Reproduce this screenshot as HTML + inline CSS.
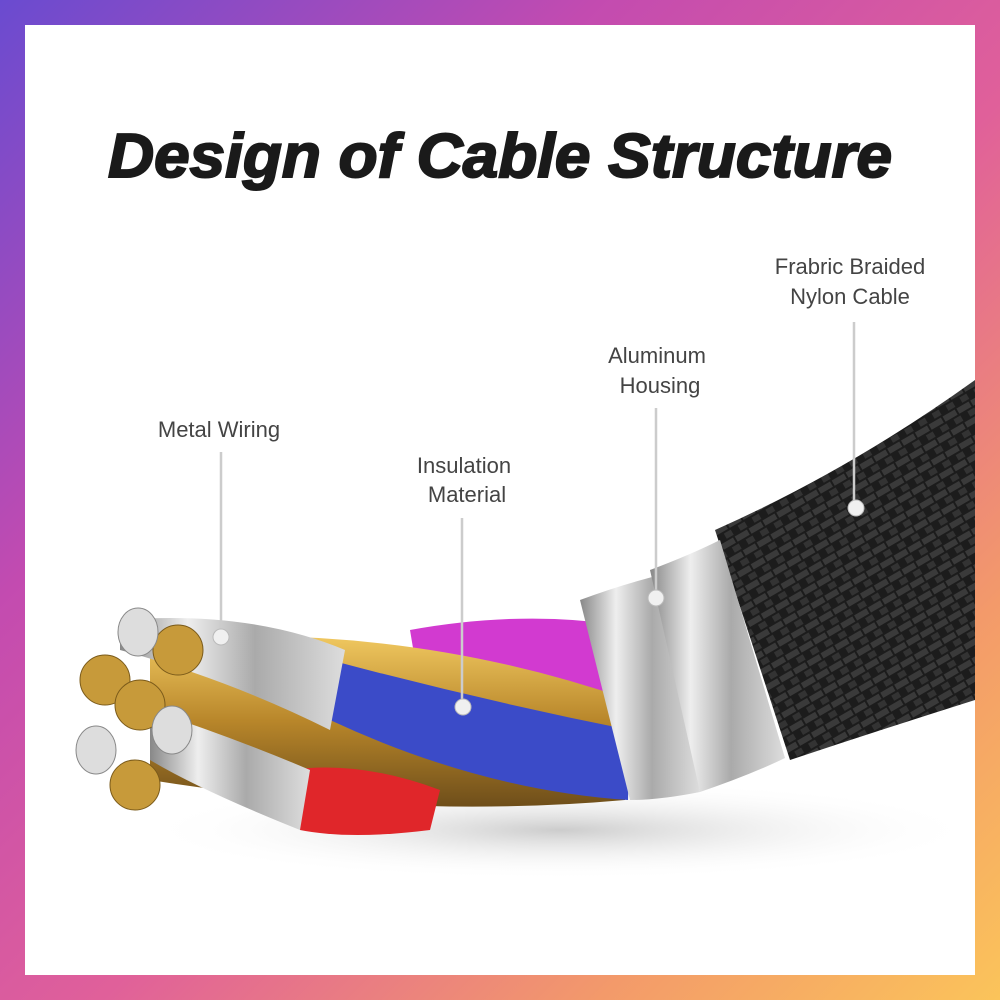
<!DOCTYPE html>
<html><head><meta charset="utf-8"><style>
html,body{margin:0;padding:0;width:1000px;height:1000px;overflow:hidden}
body{background:linear-gradient(135deg,#6a4bd0 0%,#c34bb0 30%,#e0609a 55%,#f39a6a 80%,#fbc45a 100%)}
</style></head><body>
<svg width="1000" height="1000" style="position:absolute;left:0;top:0">
<defs>
<linearGradient id="gold" x1="0" y1="0" x2="0" y2="1"><stop offset="0" stop-color="#f0c860"/><stop offset="0.5" stop-color="#b8862a"/><stop offset="1" stop-color="#6e4e1a"/></linearGradient>
<linearGradient id="silv" x1="0" y1="0" x2="1" y2="0"><stop offset="0" stop-color="#888"/><stop offset="0.3" stop-color="#eee"/><stop offset="0.6" stop-color="#aaa"/><stop offset="1" stop-color="#ddd"/></linearGradient>
<radialGradient id="sh"><stop offset="0" stop-color="#ccc"/><stop offset="1" stop-color="#fff" stop-opacity="0"/></radialGradient>
<pattern id="braid" width="16" height="16" patternUnits="userSpaceOnUse" patternTransform="rotate(-30)"><rect width="16" height="16" fill="#1c1c1c"/><rect width="14" height="6" fill="#3a3a3a"/><rect x="8" y="8" width="14" height="6" fill="#333"/></pattern>
</defs>
<rect x="25" y="25" width="950" height="950" fill="#fff"/>
<ellipse cx="560" cy="830" rx="420" ry="50" fill="url(#sh)"/>
<text x="500" y="177" text-anchor="middle" font-family="Liberation Sans,sans-serif" font-weight="bold" font-style="italic" font-size="62" fill="#1a1a1a" stroke="#1a1a1a" stroke-width="2" textLength="784" lengthAdjust="spacingAndGlyphs">Design of Cable Structure</text>
<g font-family="Liberation Sans,sans-serif" font-size="22" fill="#444" text-anchor="middle">
<text x="219" y="437">Metal Wiring</text>
<text x="464" y="473">Insulation</text><text x="467" y="502">Material</text>
<text x="657" y="363">Aluminum</text><text x="660" y="393">Housing</text>
<text x="850" y="274">Frabric Braided</text><text x="850" y="304">Nylon Cable</text>
</g>
<path d="M715,530 Q850,470 975,380 L975,700 Q880,730 790,760 Z" fill="url(#braid)"/>
<path d="M410,630 Q520,610 620,625 L615,700 Q510,680 420,690 Z" fill="#d23ad0"/>
<path d="M150,640 Q400,620 630,700 L625,800 Q400,820 150,780 Z" fill="url(#gold)"/>
<path d="M330,660 Q480,700 630,730 L628,800 Q480,790 330,720 Z" fill="#3b4bc8"/>
<path d="M290,770 Q360,760 440,790 L430,830 Q350,840 300,830 Z" fill="#e0262a"/>
<path d="M120,620 Q250,610 345,650 L330,730 Q230,680 120,650 Z" fill="url(#silv)"/>
<path d="M150,710 Q240,740 310,770 L300,830 Q200,790 150,760 Z" fill="url(#silv)"/>
<g fill="#c79a3a" stroke="#7a5a1a" stroke-width="1">
<circle cx="105" cy="680" r="25"/><circle cx="140" cy="705" r="25"/><circle cx="178" cy="650" r="25"/><circle cx="135" cy="785" r="25"/></g>
<g fill="#ddd" stroke="#888"><ellipse cx="138" cy="632" rx="20" ry="24"/><ellipse cx="96" cy="750" rx="20" ry="24"/><ellipse cx="172" cy="730" rx="20" ry="24"/></g>
<path d="M580,600 Q620,585 660,575 L700,792 Q660,800 630,800 Z" fill="url(#silv)"/>
<path d="M650,570 Q690,555 720,540 L785,758 Q750,775 700,792 Z" fill="url(#silv)"/>
<g stroke="#ccc" stroke-width="2.5"><line x1="221" y1="452" x2="221" y2="635"/><line x1="462" y1="518" x2="462" y2="705"/><line x1="656" y1="408" x2="656" y2="598"/><line x1="854" y1="322" x2="854" y2="508"/></g>
<g fill="#f0f0f0" stroke="#bbb"><circle cx="221" cy="637" r="8"/><circle cx="463" cy="707" r="8"/><circle cx="656" cy="598" r="8"/><circle cx="856" cy="508" r="8"/></g>
</svg>
</body></html>
